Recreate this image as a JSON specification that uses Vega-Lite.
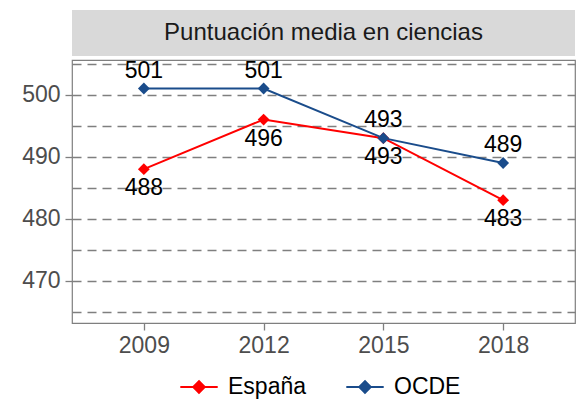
{
  "$schema": "https://vega.github.io/schema/vega-lite/v6.json",
  "padding": {"left": 5, "top": 10, "right": 3, "bottom": 0},
  "background": "white",
  "config": {
    "font": "Liberation Sans",
    "concat": {"spacing": 2}
  },
  "datasets": {
    "scores": [
      {"year": "2009", "serie": "España", "score": 488},
      {"year": "2012", "serie": "España", "score": 496},
      {"year": "2015", "serie": "España", "score": 493},
      {"year": "2018", "serie": "España", "score": 483},
      {"year": "2009", "serie": "OCDE", "score": 501},
      {"year": "2012", "serie": "OCDE", "score": 501},
      {"year": "2015", "serie": "OCDE", "score": 493},
      {"year": "2018", "serie": "OCDE", "score": 489}
    ],
    "strip": [{"label": "Puntuación media en ciencias"}]
  },
  "vconcat": [
    {
      "width": 503,
      "height": 46,
      "view": {"fill": "#D9D9D9", "stroke": null},
      "data": {"name": "strip"},
      "mark": {"type": "text", "fontSize": 24, "color": "#1A1A1A", "baseline": "middle", "align": "center"},
      "encoding": {
        "text": {"field": "label", "type": "nominal"}
      }
    },
    {
      "width": 503,
      "height": 263,
      "view": {"stroke": "#7F7F7F", "strokeWidth": 1.2, "fill": "white"},
      "data": {"name": "scores"},
      "encoding": {
        "x": {
          "field": "year", "type": "ordinal",
          "scale": {"type": "point", "padding": 0.6},
          "axis": {
            "title": null, "labelAngle": 0, "labelFontSize": 23, "labelColor": "#4D4D4D",
            "tickColor": "#7F7F7F", "tickSize": 7, "tickWidth": 1.3, "domain": false, "grid": false, "labelPadding": 4
          }
        },
        "y": {
          "field": "score", "type": "quantitative",
          "scale": {"domain": [463.2, 505.6], "nice": false, "zero": false},
          "axis": {
            "title": null,
            "values": [465, 470, 475, 480, 485, 490, 495, 500, 505],
            "labelExpr": "datum.value % 10 === 0 ? datum.label : ''",
            "tickOpacity": {"condition": {"test": "datum.value % 10 === 0", "value": 1}, "value": 0},
            "labelFontSize": 23, "labelColor": "#4D4D4D",
            "tickColor": "#7F7F7F", "tickSize": 7, "tickWidth": 1.3, "labelPadding": 5,
            "domain": false,
            "grid": true, "gridColor": "#7F7F7F", "gridDash": [9, 6], "gridWidth": 1.4,
            "minExtent": 66, "maxExtent": 66
          }
        },
        "color": {
          "field": "serie", "type": "nominal",
          "scale": {"domain": ["España", "OCDE"], "range": ["#FF0000", "#1A4C8B"]},
          "legend": {
            "title": null, "orient": "none", "direction": "horizontal",
            "legendX": 107, "legendY": 357,
            "labelFontSize": 23, "labelColor": "#000000",
            "symbolType": "M-1,0H1M0,-0.3L0.3,0L0,0.3L-0.3,0Z",
            "symbolSize": 1400, "symbolStrokeWidth": 2.2,
            "columnPadding": 34, "labelOffset": 9,
            "encode": {"symbols": {"update": {"fill": {"scale": "color", "field": "value"}}}}
          }
        }
      },
      "layer": [
        {"mark": {"type": "line", "strokeWidth": 2}},
        {"mark": {"type": "point", "shape": "diamond", "filled": true, "size": 140, "opacity": 1}},
        {
          "transform": [{"filter": "datum.serie === 'OCDE'"}],
          "mark": {"type": "text", "fontSize": 23, "color": "#000000", "dy": -18, "baseline": "middle"},
          "encoding": {"text": {"field": "score", "type": "quantitative"}, "color": {"value": "#000000"}}
        },
        {
          "transform": [{"filter": "datum.serie === 'España'"}],
          "mark": {"type": "text", "fontSize": 23, "color": "#000000", "dy": 19, "baseline": "middle"},
          "encoding": {"text": {"field": "score", "type": "quantitative"}, "color": {"value": "#000000"}}
        }
      ]
    }
  ]
}
